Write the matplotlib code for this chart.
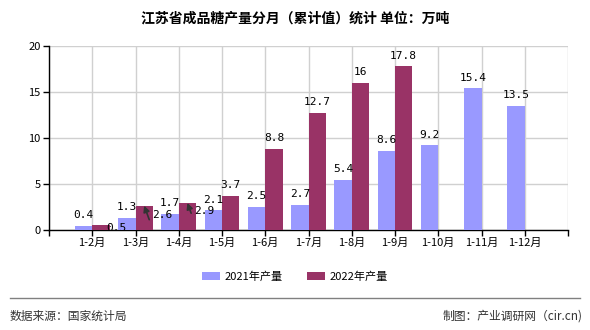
import matplotlib
matplotlib.use('Agg')
import matplotlib.pyplot as plt
import numpy as np

plt.rcParams['font.family'] = ['Noto Sans CJK SC', 'DejaVu Sans']

# Monthly cumulative output, 10k tonnes
months = ['1-2月', '1-3月', '1-4月', '1-5月', '1-6月', '1-7月',
          '1-8月', '1-9月', '1-10月', '1-11月', '1-12月']
output_2021 = [0.4, 1.3, 1.7, 2.1, 2.5, 2.7, 5.4, 8.6, 9.2, 15.4, 13.5]
output_2022 = [0.5, 2.6, 2.9, 3.7, 8.8, 12.7, 16, 17.8]

BLUE = '#9999FF'
RED = '#993366'

fig = plt.figure(figsize=(5.9, 3.3), dpi=100)
fig.patch.set_facecolor('white')
ax = fig.add_axes([49 / 590, 1 - 229.5 / 330, 519 / 590, 183.5 / 330])

x = np.arange(1, len(months) + 1)
x22 = x[:len(output_2022)]
w = 0.4
ax.bar(x - w / 2, output_2021, width=w, color=BLUE, label='2021年产量', zorder=3)
ax.bar(x22 + w / 2, output_2022, width=w, color=RED, label='2022年产量', zorder=3)

ax.set_xlim(0, 12)
ax.set_ylim(0, 20)
ax.set_xticks(np.arange(0, 13))
ax.set_xticklabels([''] + months + [''])
ax.set_yticks([0, 5, 10, 15, 20])
ax.grid(True, color='#d0d0d0', linewidth=1, zorder=0)
for s in ['top', 'right']:
    ax.spines[s].set_visible(False)
for s in ['left', 'bottom']:
    ax.spines[s].set_color('black')
    ax.spines[s].set_linewidth(1)
ax.tick_params(axis='both', labelsize=8, length=4, width=1, color='black',
               labelcolor='black', pad=2)

label_kw = dict(textcoords='offset points', ha='center', va='bottom',
                fontsize=8, family=['DejaVu Sans Mono'], zorder=5)

for xi, v in zip(x, output_2021):
    ax.annotate(f'{v:g}', (xi - w / 2, v), xytext=(0, 4), **label_kw)

# labels that would collide get shifted or pointed to with an arrow
arrowed = {2.6: (13, -6.5), 2.9: (12, -5.5)}
for xi, v in zip(x22, output_2022):
    if v == 0.5:
        ax.annotate(f'{v:g}', (xi + w / 2, v), xytext=(11, -6), **label_kw)
    elif v in arrowed:
        kw = dict(label_kw, va='center')
        ax.annotate(f'{v:g}', (xi + w / 2, v), xytext=arrowed[v],
                    arrowprops=dict(arrowstyle='-|>', color='#333333', lw=1.2,
                                    mutation_scale=9, relpos=(1, 0),
                                    shrinkA=0, shrinkB=0,
                                    connectionstyle='angle,angleA=0,angleB=-70'),
                    **kw)
    else:
        ax.annotate(f'{v:g}', (xi + w / 2, v), xytext=(0, 4), **label_kw)

fig.text(0.5, 1 - 18 / 330, '江苏省成品糖产量分月（累计值）统计 单位：万吨',
         ha='center', va='center', fontsize=10, fontweight='bold', color='black')

fig.legend(loc='center', bbox_to_anchor=(0.5, 1 - 277 / 330), ncol=2,
           frameon=False, fontsize=8, handlelength=1.6, handleheight=0.7,
           columnspacing=2.2, handletextpad=0.4)

fig.add_artist(plt.Line2D([10 / 590, 580 / 590], [1 - 298 / 330] * 2,
                          color='#808080', lw=1))
fig.text(10 / 590, 1 - 316 / 330, '数据来源：国家统计局', ha='left', va='center',
         fontsize=8.5, color='#333333')
fig.text(583 / 590, 1 - 316 / 330, '制图：产业调研网（cir.cn)', ha='right', va='center',
         fontsize=8.5, color='#333333')

fig.savefig('out.png', dpi=100)
